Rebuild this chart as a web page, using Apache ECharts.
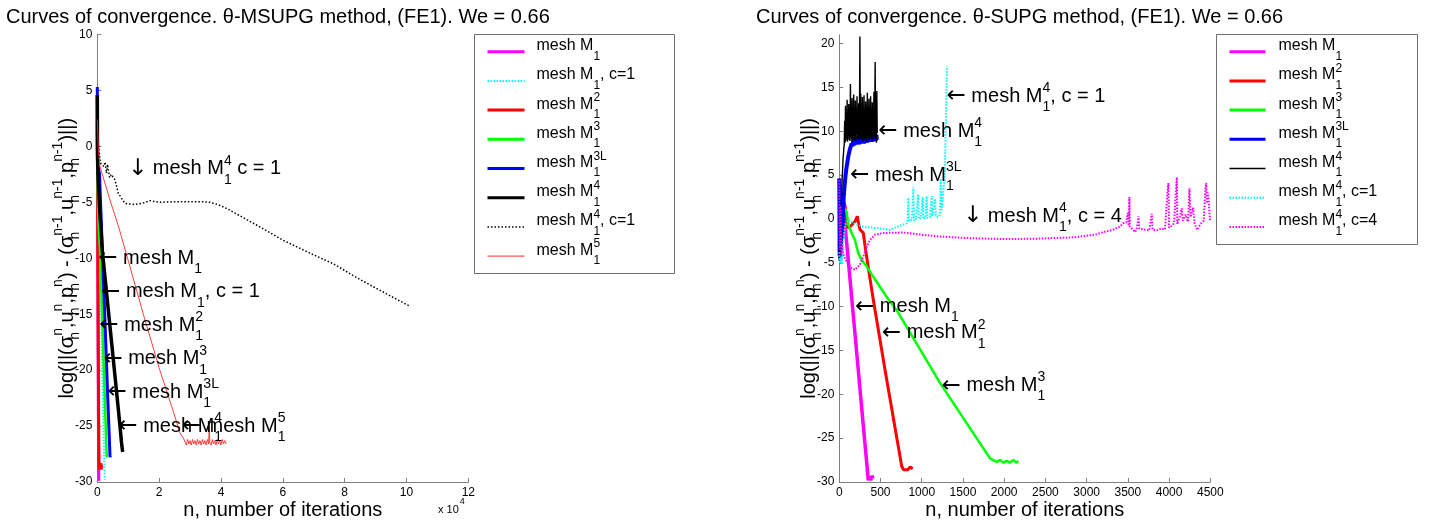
<!DOCTYPE html>
<html>
<head>
<meta charset="utf-8">
<script src="https://cdn.jsdelivr.net/npm/echarts@6/dist/echarts.min.js"></script>
<style>
html, body { margin: 0; padding: 0; background: #fff; }
#chart { width: 1438px; height: 525px; }
</style>
</head>
<body>
<div id="chart"></div>
<script>
const FONT = "'Liberation Sans', Arial, Helvetica, sans-serif";
const ARROW_FONT = "'DejaVu Sans', sans-serif";

// ---------- θ-MSUPG panel: [iteration, log residual] ----------
const msupgM1 = [[0,4.5],[20,1.2],[50,-1.5],[100,-5.5],[200,-13.5],[300,-21],[400,-27.5],[480,-29.9]];
const msupgM1c1 = [[0,3],[100,-1],[300,-3.5],[600,-7],[1000,-12.2],[1500,-18.8],[1900,-24],[2200,-27.8],[2400,-29.8]];
const msupgM2 = [[0,2.4],[30,0],[60,-2],[150,-8],[300,-17],[450,-25],[550,-28.3],[650,-28.8],[750,-28.3],[850,-28.9],
  [950,-28.4],[1050,-28.8],[1150,-28.3],[1250,-28.9],[1350,-28.5],[1450,-28.7]];
const msupgM3 = [[0,2],[50,-1.5],[150,-4],[300,-6],[550,-7.8],[870,-9.3],[1500,-14.6],[2200,-20.6],[2800,-25.7],
  [3040,-27.7],[3100,-27.5],[3150,-27.8]];
const msupgM3L = [[0,5.3],[15,2],[30,0],[60,-1.5],[150,-2],[300,-1.8],[500,-2.2],[700,-2.4],[1300,-6.8],[2000,-12.1],
  [2700,-17.3],[3400,-22.6],[3900,-26.2],[4100,-27.6],[4200,-27.8]];
const msupgM4 = [[0,4.6],[40,1],[100,-1],[200,-2.3],[320,-3],[800,-5.8],[1620,-9.3],[3000,-13.1],[4500,-17.2],
  [6000,-21.3],[7340,-25],[7800,-26.4],[8100,-27.1],[8250,-27.3]];
const msupgM4c1 = [[0,1],[1000,-1.5],[2170,-1.8],[2500,-1.4],[3000,-2.4],[3300,-1.6],[4000,-2.8],[4500,-2.5],[5725,-3.0],
  [6800,-4.2],[8960,-5.1],[12200,-5.2],[15000,-5.05],[17050,-4.85],[20000,-5.0],[25000,-4.95],[30000,-4.95],
  [34000,-4.95],[36460,-5.0],[39000,-5.2],[41860,-5.55],[50000,-6.8],[60170,-8.4],[70000,-9.7],[76350,-10.5],
  [85000,-11.9],[95000,-13.4],[101160,-14.3]];
const msupgM5 = [[0,2.4],[400,-0.5],[870,-1.8],[4000,-4.7],[7000,-7.3],[10000,-10.2],[14880,-15.0],[20000,-19.8],
  [24000,-23.2],[26750,-25.6],[28050,-26.2],
  [28400,-26.3],[28800,-26.7],[29200,-26.2],[29600,-26.6],[30000,-26.3],[30400,-26.7],[30800,-26.2],[31200,-26.6],
  [31600,-26.3],[32000,-26.7],[32400,-26.2],[32800,-26.6],[33200,-26.3],[33600,-26.7],[34000,-26.2],[34400,-26.6],
  [34800,-26.3],[35200,-26.7],[35600,-26.2],[36000,-26.6],[36200,-25.0],[36400,-26.5],[36800,-26.7],[37200,-26.2],
  [37600,-26.6],[38000,-26.3],[38400,-26.7],[38800,-26.2],[39200,-26.6],[39600,-26.3],[40000,-26.7],[40400,-26.2],
  [40800,-26.6],[41200,-26.3],[41700,-26.6]];

// ---------- θ-SUPG panel: [iteration, log residual] ----------
const supgM1 = [[0,4.6],[10,3],[20,1.5],[40,0.8],[60,0.3],[100,-3.8],[170,-11],[250,-19.3],[300,-24.5],[352,-29.8],
  [365,-29.4],[380,-29.8],[395,-29.3],[410,-29.6]];
const supgM2 = [[0,3],[40,2.5],[70,1.5],[90,-0.9],[120,-1.0],[150,-0.7],[190,-0.3],[218,0.3],[235,-0.6],[251,-1.2],
  [291,-1.6],[320,-3.6],[412,-9.2],[560,-17.5],[757,-28.2],[780,-28.6],[800,-28.4],[830,-28.6],[860,-28.3],[890,-28.5]];
const supgM3 = [[0,2.8],[40,1.5],[57,1.4],[90,0.8],[109,-0.7],[150,-1.6],[190,-2.4],[230,-3.9],[272,-4.7],[332,-5.4],
  [412,-6.6],[575,-8.9],[696,-10.4],[1221,-18.7],[1828,-27.3],[1909,-27.7],[1950,-27.5],[1990,-27.8],[2030,-27.6],
  [2070,-27.8],[2110,-27.5],[2150,-27.8],[2171,-27.6]];
const supgM3L = [[0,4.6],[4,-4.2],[8,3.8],[12,-4.5],[16,2.5],[20,-3.6],[25,1.2],[30,-2.2],[35,0.4],[40,-0.8],[45,0.9],
  [50,2.0],[55,2.7],[60,3.3],[65,3.9],[70,4.4],[75,4.9],[80,5.3],[90,6.0],[100,6.6],[110,7.2],[120,7.6],[130,8.0],
  [140,8.2],[150,8.6],[160,8.3],[170,9.1],[180,8.4],[190,9.3],[200,8.5],[210,9.4],[220,8.6],[230,9.2],[240,8.5],
  [250,9.5],[260,8.6],[270,9.3],[280,8.7],[290,9.6],[300,8.6],[310,9.4],[320,8.8],[330,9.5],[340,8.7],[350,9.6],
  [360,8.8],[370,9.4],[380,8.9],[390,9.7],[400,8.8],[410,9.5],[420,8.9],[430,9.8],[440,8.9],[450,9.6],[455,9.0]];
const supgM4 = [[0,-4.8],[5,-2.0],[10,-4.2],[15,0.5],[20,-1.0],[25,2.5],[30,3.0],[35,4.8],[40,5.5],[45,6.8],[50,7.3],
  [55,8.1],[60,8.4],[65,11.2],[70,8.7],[75,12.9],[80,8.9],[85,10.6],[90,9.2],[95,13.6],[100,8.8],[105,11.9],
  [110,9.4],[115,13.1],[120,9.0],[125,12.4],[130,8.9],[135,15.4],[140,9.3],[145,11.6],[150,9.1],[155,13.8],
  [160,8.8],[165,12.1],[170,9.5],[175,14.2],[180,9.0],[185,11.3],[190,9.2],[195,13.5],[200,8.9],[205,12.6],
  [210,9.6],[215,14.0],[220,9.1],[225,11.8],[230,9.3],[235,13.2],[240,9.0],[245,12.3],[250,20.8],[255,9.2],
  [260,14.3],[265,9.4],[270,11.5],[275,9.1],[280,13.9],[285,8.9],[290,12.0],[295,9.5],[300,14.1],[305,9.2],
  [310,11.7],[315,9.0],[320,13.4],[325,9.3],[330,12.8],[335,8.8],[340,14.4],[345,9.4],[350,11.4],[355,9.1],
  [360,13.7],[365,9.0],[370,12.2],[375,9.6],[380,14.0],[385,9.2],[390,11.9],[395,8.9],[400,13.3],[405,9.4],
  [410,12.5],[415,9.0],[420,14.5],[425,9.3],[430,11.6],[435,17.9],[440,9.1],[445,13.0],[450,8.7],[455,14.6],[460,9.8]];
const supgM4c1 = [[0,-3.8],[10,-5],[20,-4.4],[30,-5.2],[40,-3.5],[60,-1.5],[80,-0.5],[109,-0.1],[180,-0.5],[291,-0.9],
  [400,-1.0],[500,-1.1],[614,-1.25],[700,-0.9],[818,-0.5],[830,0.1],[837,2.4],[845,-0.2],[880,-0.1],[898,3.6],
  [905,-0.2],[930,0],[958,2.8],[965,0],[990,0.1],[1012,2.5],[1020,0],[1045,0.1],[1060,2.6],[1068,0.1],[1100,0.2],
  [1121,2.6],[1128,0.3],[1150,0.2],[1161,2.3],[1170,0.3],[1200,0.2],[1221,0.5],[1230,4.6],[1240,1],[1260,0.8],
  [1280,5],[1290,10],[1306,17.4]];
const supgM4c4 = [[0,4.4],[8,-3.5],[16,1.5],[24,-4.2],[35,-3],[50,-4],[69,-4.5],[90,-4.9],[150,-5.6],[190,-5.8],
  [251,-5.2],[291,-4.3],[332,-3.2],[372,-2.4],[433,-1.8],[534,-1.6],[776,-1.55],[1000,-1.8],[1221,-2.0],[1600,-2.2],
  [2030,-2.3],[2400,-2.25],[2839,-2.1],[3100,-1.8],[3244,-1.4],[3300,-1.3],[3400,-0.9],[3446,-0.5],[3480,-0.4],
  [3500,0.7],[3510,-0.8],[3519,2.5],[3525,-0.9],[3560,-1.2],[3590,-1.5],[3610,-1.0],[3628,0.3],[3640,-1.1],
  [3700,-1.2],[3760,-1.3],[3790,0.6],[3800,-1.2],[3850,-1.3],[3900,-1.1],[3950,-1.2],[3980,3.0],[3992,4.1],
  [4000,-1.0],[4030,-0.8],[4060,-0.5],[4094,4.75],[4100,-0.6],[4130,0.3],[4155,1.2],[4165,-0.2],[4200,0.5],
  [4230,-0.3],[4247,3.5],[4260,0.2],[4290,1.3],[4310,-0.5],[4340,-1.25],[4356,-1.1],[4380,-0.6],[4420,-0.2],
  [4440,3.3],[4450,4.1],[4460,1.8],[4470,3.0],[4480,2.2],[4497,-0.3]];

// ---------- text ----------
const msupgTitle = 'Curves of convergence. θ-MSUPG method, (FE1). We = 0.66';
const supgTitle = 'Curves of convergence. θ-SUPG method, (FE1). We = 0.66';
const xName = 'n, number of iterations';
const yName = '{m|log(||(σ}{z|h}{p|n}{m|,u}{z|h}{p|n}{m|,p}{z|h}{p|n}{m|) - (σ}{z|h}{p|n-1}{m|,u}{z|h}{p|n-1}{m|,p}{z|h}{p|n-1}{m|)||)}';
const msupgXScale = 10000;

// legend entries: [series key, label]
const msupgLegend = [
  ['mM1', '{m|mesh M}{s|1}'],
  ['mM1c', '{m|mesh M}{s|1}{m|, c=1}'],
  ['mM2', '{m|mesh M}{z|1}{p|2}'],
  ['mM3', '{m|mesh M}{z|1}{p|3}'],
  ['mM3L', '{m|mesh M}{z|1}{p|3L}'],
  ['mM4', '{m|mesh M}{z|1}{p|4}'],
  ['mM4c', '{m|mesh M}{z|1}{p|4}{m|, c=1}'],
  ['mM5', '{m|mesh M}{z|1}{p|5}']
];
const supgLegend = [
  ['sM1', '{m|mesh M}{s|1}'],
  ['sM2', '{m|mesh M}{z|1}{p|2}'],
  ['sM3', '{m|mesh M}{z|1}{p|3}'],
  ['sM3L', '{m|mesh M}{z|1}{p|3L}'],
  ['sM4', '{m|mesh M}{z|1}{p|4}'],
  ['sM4c1', '{m|mesh M}{z|1}{p|4}{m|, c=1}'],
  ['sM4c4', '{m|mesh M}{z|1}{p|4}{m|, c=4}']
];

// annotations: [x, y, text]
const msupgNotes = [
  [300, -10, '{r|←}{a| mesh M}{s|1}'],
  [1200, -13, '{r|←}{a| mesh M}{s|1}{a|, c = 1}'],
  [650, -16, '{r|←}{a| mesh M}{z|1}{p|2}'],
  [1950, -19, '{r|←}{a| mesh M}{z|1}{p|3}'],
  [3250, -22, '{r|←}{a| mesh M}{z|1}{p|3L}'],
  [6800, -25, '{r|←}{a| mesh M}{z|1}{p|4}'],
  [27300, -25, '{r|←}{a| mesh M}{z|1}{p|5}'],
  [9900, -2, '{r|↓}{a| mesh M}{z|1}{p|4}{a| c = 1}']
];
const supgNotes = [
  [1300, 14, '{r|←}{a| mesh M}{z|1}{p|4}{a|, c = 1}'],
  [473, 10, '{r|←}{a| mesh M}{z|1}{p|4}'],
  [130, 5, '{r|←}{a| mesh M}{z|1}{p|3L}'],
  [1500, 0.3, '{r|↓}{a| mesh M}{z|1}{p|4}{a|, c = 4}'],
  [190, -10, '{r|←}{a| mesh M}{s|1}'],
  [515, -13, '{r|←}{a| mesh M}{z|1}{p|2}'],
  [1240, -19, '{r|←}{a| mesh M}{z|1}{p|3}']
];

// ---------- drawing ----------
// line styles per series key: [data, colour, plot width, legend width, dash]
const styles = {
  mM1: [msupgM1, '#ff00ff', 3, 3, 'solid'],
  mM1c: [msupgM1c1, '#00ffff', 2, 2, [1.5, 1.5]],
  mM2: [msupgM2, '#ff0000', 3, 3, 'solid'],
  mM3: [msupgM3, '#00ff00', 2.5, 3, 'solid'],
  mM3L: [msupgM3L, '#0000ff', 3, 3, 'solid'],
  mM4: [msupgM4, '#000000', 3.5, 3, 'solid'],
  mM4c: [msupgM4c1, '#000000', 1.5, 1.5, [1.5, 2]],
  mM5: [msupgM5, '#ff2a2a', 0.9, 1, 'solid'],
  sM1: [supgM1, '#ff00ff', 3.5, 3, 'solid'],
  sM2: [supgM2, '#ff0000', 3, 3, 'solid'],
  sM3: [supgM3, '#00ff00', 2.5, 3, 'solid'],
  sM3L: [supgM3L, '#0000ff', 4, 3, 'solid'],
  sM4: [supgM4, '#000000', 1.4, 1.5, 'solid'],
  sM4c1: [supgM4c1, '#00ffff', 2, 2, [1.5, 1.5]],
  sM4c4: [supgM4c4, '#ff00ff', 2, 2, [1.5, 1.5]]
};

function curve(key, gi) {
  const s = styles[key];
  return {
    type: 'line', name: key, data: s[0], xAxisIndex: gi, yAxisIndex: gi,
    symbol: 'none', showSymbol: false, silent: true, animation: false,
    emphasis: { disabled: true },
    itemStyle: { color: s[1] },
    lineStyle: { color: s[1], width: s[2], type: s[4] }
  };
}

// sub/superscripts: a tiny token height keeps the line height fixed, padding shifts the glyphs
const noteRich = {
  r: { fontSize: 23, fontFamily: ARROW_FONT, color: '#000', lineHeight: 30, height: 4 },
  a: { fontSize: 20, fontFamily: FONT, color: '#000', lineHeight: 30, height: 4 },
  s: { fontSize: 14, fontFamily: FONT, color: '#000', lineHeight: 30, height: 4, padding: [22, 0, 0, 0] },
  z: { fontSize: 14, fontFamily: FONT, color: '#000', lineHeight: 30, height: 4, padding: [22, 0, 0, 0], width: 0.01 },
  p: { fontSize: 14, fontFamily: FONT, color: '#000', lineHeight: 30, height: 4, padding: [0, 0, 16, 0] }
};

function notes(list, gi) {
  return {
    type: 'scatter', data: list, xAxisIndex: gi, yAxisIndex: gi,
    symbolSize: 0.1, itemStyle: { color: '#000', opacity: 1 }, silent: true, animation: false, z: 10,
    label: {
      show: true, position: 'right', distance: 0, color: '#000', opacity: 1,
      fontFamily: FONT, fontSize: 20, textBorderWidth: 0,
      formatter: p => p.data[2], rich: noteRich
    }
  };
}

// legend rows: 38px text boxes overlapped by -8.8px gaps give a 29.2px pitch
const LEGEND_LH = 38;
const legendRich = {
  m: { fontSize: 16, fontFamily: FONT, color: '#000', lineHeight: LEGEND_LH, height: 4, padding: [0, 0, 12, 0] },
  s: { fontSize: 12, fontFamily: FONT, color: '#000', lineHeight: LEGEND_LH, height: 4, padding: [9, 0, 0, 0] },
  z: { fontSize: 12, fontFamily: FONT, color: '#000', lineHeight: LEGEND_LH, height: 4, padding: [9, 0, 0, 0], width: 0.01 },
  p: { fontSize: 12, fontFamily: FONT, color: '#000', lineHeight: LEGEND_LH, height: 4, padding: [0, 0, 24.6, 0] }
};

function legend(list, left, iconW, textPad) {
  const labels = Object.fromEntries(list);
  return {
    data: list.map(e => ({ name: e[0], lineStyle: { width: styles[e[0]][3] } })),
    orient: 'vertical', left: left, top: 51.7 - LEGEND_LH / 2, padding: 0, itemGap: 29.2 - LEGEND_LH,
    itemWidth: iconW, itemHeight: 8, selectedMode: false,
    itemStyle: { opacity: 0 },
    formatter: n => labels[n],
    textStyle: { fontFamily: FONT, fontSize: 16, color: '#000', lineHeight: LEGEND_LH,
      backgroundColor: 'rgba(255,255,255,0)', padding: [0, 0, 0, textPad], rich: legendRich }
  };
}

const axisGray = '#808080';
const yNameStyle = {
  fontFamily: FONT, color: '#000', fontSize: 20,
  rich: {
    m: { fontSize: 20, fontFamily: FONT, color: '#000', lineHeight: 36, height: 4 },
    z: { fontSize: 14, fontFamily: FONT, color: '#000', lineHeight: 36, height: 4, padding: [16, 0, 0, 0], width: 0.01 },
    p: { fontSize: 14, fontFamily: FONT, color: '#000', lineHeight: 36, height: 4, padding: [0, 0, 18, 0] }
  }
};

function xAxis(gi, max, interval, fmt) {
  return {
    gridIndex: gi, type: 'value', min: 0, max: max, interval: interval,
    axisLine: { show: true, onZero: false, lineStyle: { color: axisGray, width: 1 } },
    axisTick: { show: true, inside: true, length: 4, lineStyle: { color: axisGray } },
    axisLabel: { color: '#000', fontSize: 12, fontFamily: FONT, margin: 5, formatter: fmt, hideOverlap: false },
    splitLine: { show: false },
    name: xName, nameLocation: 'middle', nameGap: 18, nameMoveOverlap: false,
    nameTextStyle: { fontSize: 20, fontFamily: FONT, color: '#000' }
  };
}
function yAxis(gi, max) {
  return {
    gridIndex: gi, type: 'value', min: -30, max: max, interval: 5,
    axisLine: { show: true, onZero: false, lineStyle: { color: axisGray, width: 1 } },
    axisTick: { show: true, inside: true, length: 4, lineStyle: { color: axisGray } },
    axisLabel: { color: '#000', fontSize: 12, fontFamily: FONT, margin: 5, showMaxLabel: max % 5 === 0,
      formatter: v => (v % 5 === 0 ? String(v) : ''), hideOverlap: false },
    splitLine: { show: false },
    name: yName, nameLocation: 'middle', nameGap: 12, nameMoveOverlap: false,
    nameTextStyle: yNameStyle
  };
}

const chart = echarts.init(document.getElementById('chart'), null, { renderer: 'canvas' });
chart.setOption({
  animation: false,
  backgroundColor: '#ffffff',
  title: [
    { text: msupgTitle, left: 6, top: 7, padding: 0,
      textStyle: { fontSize: 20, fontWeight: 'normal', color: '#000', fontFamily: FONT } },
    { text: supgTitle, left: 756, top: 7, padding: 0,
      textStyle: { fontSize: 20, fontWeight: 'normal', color: '#000', fontFamily: FONT } }
  ],
  grid: [
    { left: 97.3, top: 34.5, width: 371, height: 447.5, outerBoundsMode: 'none', containLabel: false },
    { left: 839.3, top: 34.8, width: 371, height: 447.2, outerBoundsMode: 'none', containLabel: false }
  ],
  xAxis: [
    xAxis(0, 120000, 20000, v => String(v / msupgXScale)),
    xAxis(1, 4500, 500, v => String(v))
  ],
  yAxis: [yAxis(0, 10), yAxis(1, 21)],
  legend: [legend(msupgLegend, 486, 37, 7), legend(supgLegend, 1228, 36, 8)],
  graphic: [
    { type: 'rect', shape: { x: 474.5, y: 34.5, width: 200, height: 239 },
      style: { fill: '#fff', stroke: '#6e6e6e', lineWidth: 1 }, z: -1, silent: true },
    { type: 'rect', shape: { x: 1216.5, y: 34.5, width: 201, height: 210 },
      style: { fill: '#fff', stroke: '#6e6e6e', lineWidth: 1 }, z: -1, silent: true },
    { type: 'text', left: 438, top: 497, silent: true,
      style: { text: '{t|x 10}{u|4}', fill: '#000',
        rich: { t: { fontSize: 11, fontFamily: FONT, lineHeight: 22, height: 4, padding: [8, 0, 0, 0] },
                u: { fontSize: 9, fontFamily: FONT, lineHeight: 22, height: 4, padding: [0, 0, 8, 1] } } } }
  ],
  series: [
    curve('mM1', 0), curve('mM1c', 0), curve('mM2', 0), curve('mM3', 0), curve('mM3L', 0),
    curve('mM4', 0), curve('mM4c', 0), curve('mM5', 0),
    curve('sM1', 1), curve('sM2', 1), curve('sM3', 1), curve('sM3L', 1), curve('sM4', 1),
    curve('sM4c1', 1), curve('sM4c4', 1),
    notes(msupgNotes, 0), notes(supgNotes, 1)
  ]
});
</script>
</body>
</html>
